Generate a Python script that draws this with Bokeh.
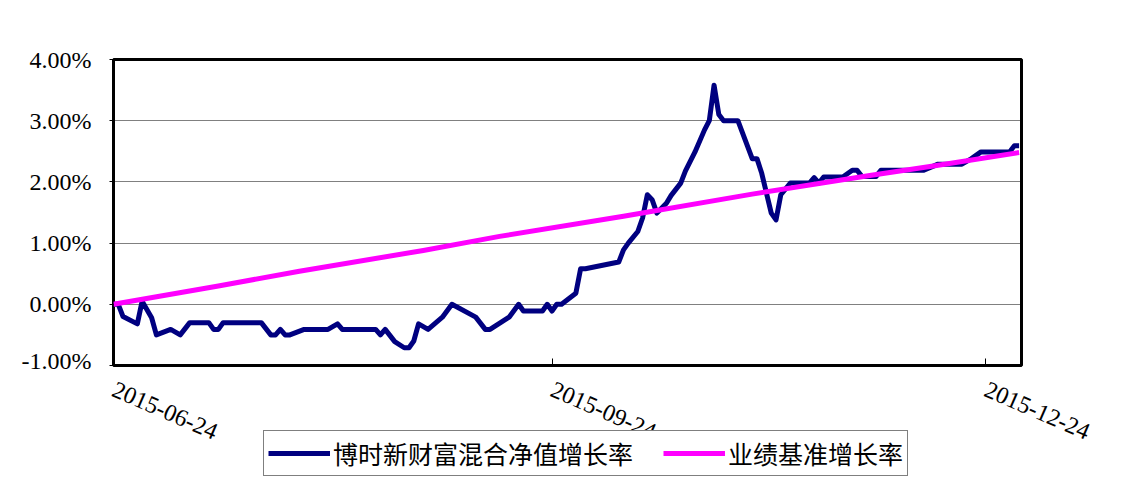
import pandas as pd
from bokeh.plotting import figure
from bokeh.models import (FixedTicker, CustomJSTickFormatter, Legend, LegendItem, Range1d,
                          ColumnDataSource)
from bokeh.core.properties import value
from bokeh.embed import file_html
from bokeh.resources import INLINE

# ---- data ----
fund_dates = [
    "2015-06-24", "2015-06-25", "2015-06-26", "2015-06-29", "2015-06-30",
    "2015-07-02", "2015-07-03", "2015-07-06", "2015-07-08", "2015-07-10",
    "2015-07-14", "2015-07-15", "2015-07-16", "2015-07-17", "2015-07-25",
    "2015-07-27", "2015-07-28", "2015-07-29", "2015-07-30", "2015-07-31",
    "2015-08-03", "2015-08-08", "2015-08-10", "2015-08-11", "2015-08-18",
    "2015-08-19", "2015-08-20", "2015-08-22", "2015-08-24", "2015-08-25",
    "2015-08-26", "2015-08-27", "2015-08-29", "2015-09-01", "2015-09-03",
    "2015-09-08", "2015-09-10", "2015-09-11", "2015-09-15", "2015-09-17",
    "2015-09-18", "2015-09-22", "2015-09-23", "2015-09-24", "2015-09-25",
    "2015-09-26", "2015-09-29", "2015-09-30", "2015-10-01", "2015-10-08",
    "2015-10-09", "2015-10-10", "2015-10-12", "2015-10-13", "2015-10-14",
    "2015-10-15", "2015-10-16", "2015-10-18", "2015-10-19", "2015-10-21",
    "2015-10-22", "2015-10-24", "2015-10-26", "2015-10-27", "2015-10-28",
    "2015-10-29", "2015-10-30", "2015-11-02", "2015-11-05", "2015-11-06",
    "2015-11-07", "2015-11-09", "2015-11-10", "2015-11-11", "2015-11-13",
    "2015-11-17", "2015-11-18", "2015-11-19", "2015-11-20", "2015-11-24",
    "2015-11-26", "2015-11-27", "2015-11-28", "2015-12-01", "2015-12-02",
    "2015-12-11", "2015-12-14", "2015-12-19", "2015-12-21", "2015-12-23",
    "2015-12-29", "2015-12-30", "2015-12-31",
]
fund_values = [
    0.00, 0.00, -0.20, -0.32, 0.05,
    -0.22, -0.50, -0.41, -0.50, -0.30,
    -0.30, -0.41, -0.41, -0.30, -0.30,
    -0.50, -0.50, -0.41, -0.50, -0.50,
    -0.41, -0.41, -0.32, -0.41, -0.41,
    -0.50, -0.41, -0.61, -0.71, -0.71,
    -0.60, -0.32, -0.41, -0.21, 0.00,
    -0.21, -0.41, -0.41, -0.21, 0.00,
    -0.11, -0.11, 0.00, -0.11, 0.00,
    0.00, 0.18, 0.58, 0.58, 0.69,
    0.89, 1.00, 1.19, 1.41, 1.79,
    1.71, 1.49, 1.65, 1.78, 1.98,
    2.18, 2.49, 2.85, 3.00, 3.58,
    3.10, 3.00, 3.00, 2.38, 2.38,
    2.14, 1.49, 1.38, 1.79, 1.98,
    1.98, 2.07, 1.98, 2.08, 2.08,
    2.19, 2.19, 2.09, 2.09, 2.19,
    2.19, 2.29, 2.29, 2.38, 2.49,
    2.49, 2.59, 2.59,
]
bench_dates = ["2015-06-24", "2015-07-16", "2015-08-02", "2015-08-28", "2015-09-13",
               "2015-10-09", "2015-11-05", "2015-11-30", "2015-12-13", "2015-12-31"]
bench_values = [0.00, 0.30, 0.54, 0.88, 1.11, 1.44, 1.80, 2.11, 2.26, 2.48]

y_ticks = [-1, 0, 1, 2, 3, 4]
y_labels = ["-1.00%", "0.00%", "1.00%", "2.00%", "3.00%", "4.00%"]
x_tick_dates = ["2015-06-24", "2015-09-24", "2015-12-24"]
series_names = ["博时新财富混合净值增长率", "业绩基准增长率"]
colors = ["#000080", "#FF00FF"]

fx = pd.to_datetime(fund_dates)
bx = pd.to_datetime(bench_dates)
xt = pd.to_datetime(x_tick_dates)

# ---- layout constants (pixels) ----
W, H = 1148, 484
LEFT, TOP, RIGHT, BOTTOM1 = 113, 59, 127, 8
FRAME_W = W - LEFT - RIGHT
H1 = 373
H2 = H - H1

x0 = pd.Timestamp("2015-06-24")
x1 = pd.Timestamp("2015-12-31 12:00")

# ---- main chart ----
p = figure(width=W, height=H1, output_backend="svg", toolbar_location=None,
           x_axis_type="datetime", x_range=Range1d(x0, x1), y_range=Range1d(-1, 4),
           min_border_left=LEFT, min_border_top=TOP, min_border_right=RIGHT,
           min_border_bottom=BOTTOM1)
p.background_fill_color = "white"
p.border_fill_color = "white"
p.outline_line_color = "black"
p.outline_line_width = 3

r1 = p.line(fx, fund_values, line_color=colors[0], line_width=5, line_join="round")
r2 = p.line(bx, bench_values, line_color=colors[1], line_width=5, line_join="round")

p.xgrid.grid_line_color = None
p.ygrid.grid_line_color = "black"
p.ygrid.grid_line_dash = "1 1"
p.ygrid.grid_line_width = 1
p.ygrid.ticker = FixedTicker(ticks=y_ticks)

ya = p.yaxis[0]
ya.ticker = FixedTicker(ticks=y_ticks)
ya.major_label_overrides = {t: l for t, l in zip(y_ticks, y_labels)}
ya.major_label_text_font = "Liberation Serif"
ya.major_label_text_font_size = "24px"
ya.major_label_text_color = "black"
ya.axis_line_color = None
ya.major_tick_out = 4
ya.major_tick_in = 0
ya.major_tick_line_color = "black"
ya.minor_tick_line_color = None
ya.major_label_standoff = 18

xa = p.xaxis[0]
xa.ticker = FixedTicker(ticks=[t.value // 10**6 for t in xt])
xa.formatter = CustomJSTickFormatter(code="return ''")
xa.major_label_text_font_size = "1px"
xa.major_label_standoff = 0
xa.axis_line_color = None
xa.major_tick_in = 7
xa.major_tick_out = 0
xa.major_tick_line_color = "black"
xa.minor_tick_line_color = None

# ---- lower strip: rotated date labels and legend, on the same date scale ----
ms_per_px = (x1 - x0) / FRAME_W
q = figure(width=W, height=H2, output_backend="svg", toolbar_location=None,
           x_axis_type=None, y_axis_type=None,
           x_range=Range1d(x0 - LEFT * ms_per_px, x0 + (W - LEFT) * ms_per_px),
           y_range=Range1d(H2, 0),
           min_border_left=0, min_border_top=0, min_border_right=0, min_border_bottom=0)
q.outline_line_color = None
q.background_fill_color = "white"
q.border_fill_color = "white"
q.xgrid.visible = False
q.ygrid.visible = False

lab_src = ColumnDataSource(dict(x=xt, y=[15] * len(xt), text=x_tick_dates))
q.text(x="x", y="y", text="text", source=lab_src, angle=-0.41,
       text_align="left", text_baseline="middle",
       text_font=value("Liberation Serif"), text_font_size="24px", text_color="black")

# legend proxies (same series, hidden in this strip)
g1 = q.line(fx, fund_values, line_color=colors[0], line_width=5, visible=False)
g2 = q.line(bx, bench_values, line_color=colors[1], line_width=5, visible=False)

legend = Legend(items=[LegendItem(label=series_names[0], renderers=[g1]),
                       LegendItem(label=series_names[1], renderers=[g2])],
                orientation="horizontal", location=(263, 8))
legend.label_text_font = "Noto Sans CJK SC"
legend.label_text_font_size = "25px"
legend.label_text_color = "black"
legend.glyph_width = 62
legend.glyph_height = 26
legend.label_standoff = 3
legend.spacing = 30
legend.padding = 4
legend.margin = 0
legend.border_line_color = "black"
legend.border_line_width = 1
legend.background_fill_color = "white"
legend.background_fill_alpha = 1
legend.inactive_fill_alpha = 0
q.add_layout(legend, "center")

open("out.html", "w").write(file_html([p, q], INLINE))
